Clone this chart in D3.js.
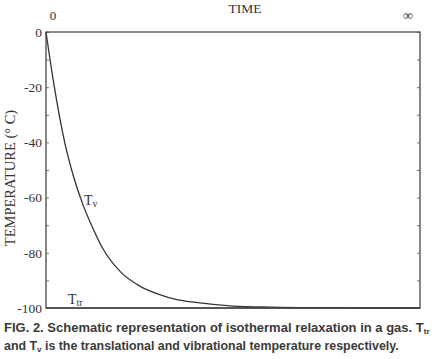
<!DOCTYPE html>
<html>
<head>
<meta charset="utf-8">
<script src="https://cdn.jsdelivr.net/npm/d3@7"></script>
<style>
  body { margin: 0; background: #fff; }
  svg text { fill: #333; }
  .serif { font-family: "Liberation Serif", "DejaVu Serif", serif; }
  .caption { font-family: "Liberation Sans", Arial, sans-serif; font-weight: bold; fill: #3a3a3a; }
</style>
</head>
<body>
<div id="chart"></div>
<script>
// time in arbitrary units (axis runs from 0 to "infinity")
const timeTv = [0, 0.2, 0.5, 0.75, 1.0, 1.25, 1.5, 2.0, 2.5, 3.0, 3.5, 4.0, 5.0, 6.0, 7.0, 10];
const tempTv = [0, -18, -40, -53, -63, -71, -78, -87, -92, -95, -97, -98, -99.3, -99.7, -99.9, -100];
const timeTtr = [0, 10];
const tempTtr = [-100, -100];
const yTicks = [0, -20, -40, -60, -80, -100];
const yMinor = [-10, -30, -50, -70, -90];

const margin = {top: 32, right: 21, bottom: 51, left: 46};
const W = 441, H = 359;
const width = W - margin.left - margin.right;
const height = H - margin.top - margin.bottom;

const svg = d3.select("#chart").append("svg")
    .attr("width", W)
    .attr("height", H);

const g = svg.append("g")
    .attr("transform", "translate(" + margin.left + "," + margin.top + ")");

const x = d3.scaleLinear().domain([0, 10]).range([0, width]);
const y = d3.scaleLinear().domain([-100, 0]).range([height, 0]);

// left axis, ticks pointing inward
let yAxis = d3.axisLeft(y).tickValues(yTicks.concat(yMinor)).tickSize(-3).tickPadding(5)
    .tickFormat(d => yTicks.includes(d) ? d : "");
let ya = g.append("g").call(yAxis);
ya.select(".domain").remove();
ya.selectAll("line").attr("stroke", "#777");
ya.selectAll("text").attr("class", "serif").attr("font-size", 13.5).attr("fill", "#333")
    .attr("x", -4);

// right axis, no labels
let yAxisR = d3.axisRight(y).tickValues(yTicks.concat(yMinor)).tickSize(-3).tickFormat("");
let yr = g.append("g").attr("transform", "translate(" + width + ",0)").call(yAxisR);
yr.select(".domain").remove();
yr.selectAll("line").attr("stroke", "#777");

// frame
g.append("rect")
    .attr("width", width).attr("height", height)
    .attr("fill", "none").attr("stroke", "#555").attr("stroke-width", 1.4);

const line = d3.line()
    .x(d => x(d[0]))
    .y(d => y(d[1]))
    .curve(d3.curveMonotoneX);

g.append("path")
    .datum(timeTv.map((t, i) => [t, tempTv[i]]))
    .attr("d", line)
    .attr("fill", "none").attr("stroke", "#333").attr("stroke-width", 1.3);

g.append("path")
    .datum(timeTtr.map((t, i) => [t, tempTtr[i]]))
    .attr("d", line)
    .attr("fill", "none").attr("stroke", "#444").attr("stroke-width", 1.6);

// top labels
svg.append("text").attr("class", "serif").attr("x", 53).attr("y", 20)
    .attr("text-anchor", "middle").attr("font-size", 13).text("0");
svg.append("text").attr("class", "serif").attr("x", 245).attr("y", 13)
    .attr("text-anchor", "middle").attr("font-size", 13.5).text("TIME");
svg.append("text").attr("class", "serif").attr("x", 408).attr("y", 20)
    .attr("text-anchor", "middle").attr("font-size", 14).text("∞");

// y title
svg.append("text").attr("class", "serif")
    .attr("transform", "translate(15,178) rotate(-90)")
    .attr("text-anchor", "middle").attr("font-size", 14.5)
    .text("TEMPERATURE (° C)");

// curve labels
let tv = svg.append("text").attr("class", "serif").attr("x", 84).attr("y", 205).attr("font-size", 14);
tv.append("tspan").text("T");
tv.append("tspan").attr("font-size", 10).attr("dy", 2).text("v");
let ttr = svg.append("text").attr("class", "serif").attr("x", 68).attr("y", 304).attr("font-size", 14);
ttr.append("tspan").text("T");
ttr.append("tspan").attr("font-size", 10).attr("dy", 2).text("tr");

// caption
let c1 = svg.append("text").attr("class", "caption").attr("x", 4).attr("y", 332).attr("font-size", 13);
c1.append("tspan").text("FIG. 2. Schematic representation of isothermal relaxation in a gas. T");
c1.append("tspan").attr("font-size", 8).attr("dy", 2).text("tr");
let c2 = svg.append("text").attr("class", "caption").attr("x", 4).attr("y", 350).attr("font-size", 12.4);
c2.append("tspan").text("and T");
c2.append("tspan").attr("font-size", 8).attr("dy", 2).text("v");
c2.append("tspan").attr("dy", -2).text(" is the translational and vibrational temperature respectively.");
</script>
</body>
</html>
